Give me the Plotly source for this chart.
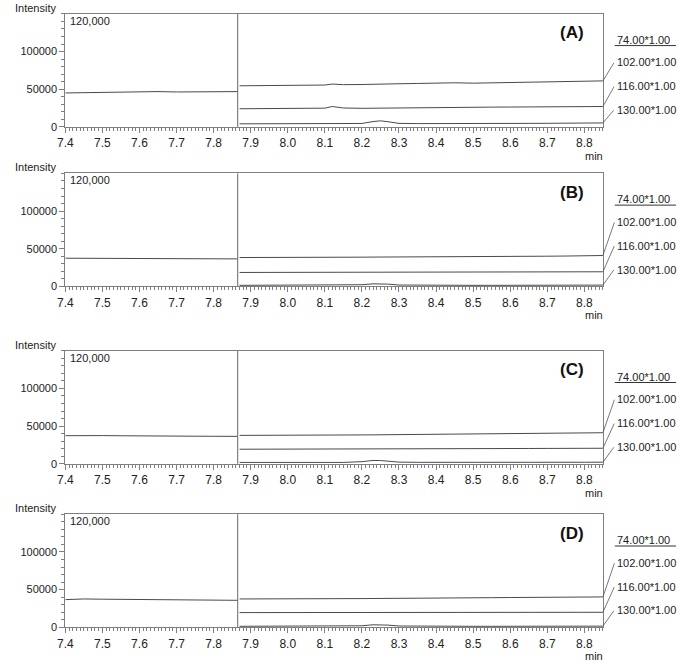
import plotly.graph_objects as go
from plotly.subplots import make_subplots

# retention time points (min) for the two acquisition segments
t_seg1 = [7.40, 7.45, 7.50, 7.55, 7.60, 7.65, 7.70, 7.75, 7.80, 7.865]
t_seg2 = [7.87, 7.95, 8.00, 8.05, 8.10, 8.12, 8.15, 8.20, 8.23, 8.25, 8.27, 8.30,
          8.35, 8.40, 8.45, 8.50, 8.55, 8.60, 8.65, 8.70, 8.75, 8.80, 8.85]

panel_names = ["(A)", "(B)", "(C)", "(D)"]
ion_labels = ["74.00*1.00", "102.00*1.00", "116.00*1.00", "130.00*1.00"]

# panel A
a_74 = [45000, 45500, 45800, 46000, 46500, 46800, 46300, 46600, 47200, 46800]
a_102 = [54500, 55000, 55500, 55800, 55500, 56800, 56000, 56200, 56800, 57000, 56800, 57200,
         57600, 58200, 58500, 58000, 58400, 58600, 58800, 59300, 59600, 60200, 61000]
a_116 = [24000, 24200, 24500, 24300, 24800, 27000, 25000, 24600, 24800, 25000, 25000, 25200,
         25500, 25700, 26200, 26000, 26200, 26300, 26300, 26500, 26500, 26800, 27000]
a_130 = [4000, 4000, 3900, 3800, 3800, 3800, 3900, 4500, 7000, 8000, 6800, 4600,
         4300, 4200, 4300, 4400, 4400, 4500, 4600, 4700, 4800, 4900, 5200]

# panel B
b_74 = [37400, 37200, 37300, 37000, 37100, 36900, 36600, 36500, 36400, 36500]
b_102 = [38300, 38200, 38300, 38400, 38500, 38700, 38600, 38800, 38900, 39000, 38900, 39100,
         39200, 39400, 39600, 39600, 39700, 39800, 39900, 40100, 40300, 40500, 41000]
b_116 = [18500, 18500, 18600, 18500, 18600, 18700, 18600, 18600, 18700, 18800, 18700, 18800,
         18900, 18900, 19000, 19000, 19100, 19100, 19200, 19200, 19300, 19300, 19400]
b_130 = [1400, 1400, 1300, 1300, 1300, 1300, 1400, 2200, 3400, 3600, 3000, 1800,
         1500, 1400, 1400, 1400, 1400, 1500, 1500, 1500, 1600, 1600, 1700]

# panel C
c_74 = [37300, 37600, 37400, 37200, 37300, 37100, 36800, 36600, 36500, 36400]
c_102 = [37700, 37600, 37800, 37900, 38000, 38200, 38100, 38300, 38400, 38500, 38400, 38700,
         38900, 39200, 39500, 39900, 39800, 40000, 40300, 40500, 40700, 40900, 41200]
c_116 = [19300, 19300, 19400, 19400, 19500, 19600, 19500, 19600, 19700, 19700, 19800, 19800,
         19900, 20000, 20000, 20100, 20200, 20200, 20300, 20400, 20400, 20500, 20600]
c_130 = [1800, 1800, 1700, 1700, 1700, 1800, 1800, 2800, 4400, 4300, 3600, 2200,
         1900, 1800, 1800, 1800, 1900, 1900, 1900, 2000, 2000, 2000, 2100]

# panel D
d_74 = [36700, 37600, 37300, 37100, 37000, 36900, 36600, 36300, 36000, 35800]
d_102 = [37600, 37500, 37600, 37700, 37800, 37900, 37900, 38100, 38200, 38300, 38300, 38900,
         38800, 39000, 39100, 39200, 39300, 39500, 39600, 39800, 39900, 40100, 40300]
d_116 = [19500, 19500, 19500, 19600, 19600, 19700, 19600, 19600, 19700, 19700, 19700, 19700,
         19800, 19800, 19800, 19800, 19800, 19900, 19900, 19900, 19900, 19900, 19900]
d_130 = [1300, 1300, 1200, 1200, 1200, 1300, 1300, 2000, 3300, 3500, 2900, 1700,
         1400, 1300, 1300, 1300, 1300, 1400, 1400, 1400, 1400, 1500, 1500]

panels = [
    (a_74, a_102, a_116, a_130),
    (b_74, b_102, b_116, b_130),
    (c_74, c_102, c_116, c_130),
    (d_74, d_102, d_116, d_130),
]

W, H = 680, 664
tops = [14, 175, 354, 519]     # top edge of each plot box (px)
PH = 114                       # plot box height (px)
X0, X1 = 58, 602               # left/right edge of the plot boxes (px)
seg_split = 7.865
y_max = 150000
label_levels = [115800, 85500, 53900, 22400]   # heights of the ion labels in y units

FONT = "Liberation Sans, Arial, sans-serif"
AXIS_COL = "#7f7f7f"
LINE_COL = "#4a4a4a"


def px_x(x):
    return x / W


def px_y(y):
    return 1 - y / H


fig = make_subplots(rows=4, cols=1)

annotations = []
shapes = []

for i, (s74, s102, s116, s130) in enumerate(panels):
    r = i + 1
    xr = "x" if r == 1 else f"x{r}"
    yr = "y" if r == 1 else f"y{r}"
    top = tops[i]
    bottom = top + PH

    fig.add_trace(go.Scatter(x=t_seg1, y=s74, mode="lines",
                             line=dict(color=LINE_COL, width=1)), row=r, col=1)
    for s in (s102, s116, s130):
        fig.add_trace(go.Scatter(x=t_seg2, y=s, mode="lines",
                                 line=dict(color=LINE_COL, width=1)), row=r, col=1)

    ax_suffix = "" if r == 1 else str(r)
    fig.layout["xaxis" + ax_suffix].update(
        domain=[px_x(X0), px_x(X1)], range=[7.4, 8.85],
        showline=True, mirror=True, linecolor=AXIS_COL, linewidth=1,
        ticks="outside", ticklen=5, tickcolor=AXIS_COL, tickwidth=1,
        tick0=7.4, dtick=0.1, tickformat=".1f",
        minor=dict(dtick=0.01, ticks="outside", ticklen=3, tickcolor=AXIS_COL),
        showgrid=False, zeroline=False,
        tickfont=dict(family=FONT, size=12, color="#222"),
    )
    fig.layout["yaxis" + ax_suffix].update(
        domain=[px_y(bottom), px_y(top)], range=[0, y_max],
        showline=True, mirror=True, linecolor=AXIS_COL, linewidth=1,
        ticks="outside", ticklen=5, tickcolor=AXIS_COL, tickwidth=1,
        tickvals=[0, 50000, 100000], tickformat="d",
        minor=dict(dtick=10000, ticks="outside", ticklen=3, tickcolor=AXIS_COL),
        showgrid=False, zeroline=False,
        tickfont=dict(family=FONT, size=11, color="#222"),
    )

    # segment divider
    shapes.append(dict(type="line", xref=xr, yref=yr + " domain",
                       x0=seg_split, x1=seg_split, y0=0, y1=1,
                       line=dict(color="#666", width=1)))

    # underline under the first ion label
    shapes.append(dict(type="line", xref="paper", yref="paper",
                       x0=px_x(614), x1=px_x(676), y0=px_y(top + 32), y1=px_y(top + 32),
                       line=dict(color="#333", width=1)))

    annotations += [
        dict(text="Intensity", xref="paper", yref="paper", x=px_x(5), y=px_y(top - 6),
             xanchor="left", yanchor="middle", showarrow=False,
             font=dict(family=FONT, size=11, color="#222")),
        dict(text="120,000", xref="paper", yref="paper", x=px_x(61), y=px_y(top + 7),
             xanchor="left", yanchor="middle", showarrow=False,
             font=dict(family=FONT, size=11, color="#222")),
        dict(text="min", xref="paper", yref="paper", x=px_x(593), y=px_y(bottom + 29),
             xanchor="center", yanchor="middle", showarrow=False,
             font=dict(family=FONT, size=11, color="#222")),
        dict(text="<b>" + panel_names[i] + "</b>", xref="paper", yref="paper",
             x=px_x(571), y=px_y(top + 19), xanchor="center", yanchor="middle",
             showarrow=False, font=dict(family=FONT, size=17, color="#111")),
    ]

    # ion labels and connectors
    for k, lab in enumerate(ion_labels):
        annotations.append(dict(text=lab, xref=xr, yref=yr, x=8.85, y=label_levels[k],
                                xshift=12, xanchor="left", yanchor="middle",
                                showarrow=False,
                                font=dict(family=FONT, size=11, color="#222")))
    for k, s in enumerate((s102, s116, s130)):
        annotations.append(dict(text="", xref=xr, yref=yr, x=t_seg2[-1], y=s[-1],
                                showarrow=True, arrowhead=0, arrowwidth=0.8,
                                arrowcolor="#555", standoff=0, startstandoff=0,
                                axref="pixel", ayref=yr, ax=12,
                                ay=label_levels[k + 1] + 1500))

fig.update_layout(
    width=W, height=H,
    margin=dict(l=0, r=0, t=0, b=0),
    paper_bgcolor="white", plot_bgcolor="white",
    showlegend=False,
    annotations=annotations,
    shapes=shapes,
    font=dict(family=FONT),
)

# drop the default page margin so the figure sits at the window's corner
fig.write_html("out.html", config={"displayModeBar": False},
               post_script="document.body.style.margin='0';")
